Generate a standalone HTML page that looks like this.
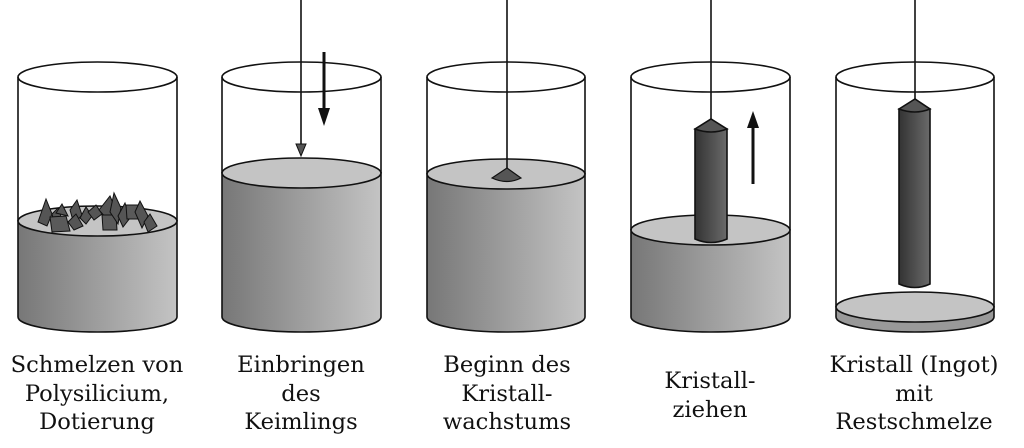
<!DOCTYPE html>
<html><head><meta charset="utf-8"><style>
html,body{margin:0;padding:0;background:#fff;}
svg{display:block}
text{font-family:"DejaVu Serif","Liberation Serif",serif;font-size:22.6px;fill:#111;text-anchor:middle}
</style></head><body>
<svg width="1024" height="448" viewBox="0 0 1024 448" xmlns="http://www.w3.org/2000/svg">
<defs>
<linearGradient id="g" x1="0" x2="1" y1="0" y2="0">
<stop offset="0" stop-color="#777"/><stop offset="1" stop-color="#c4c4c4"/></linearGradient>
<linearGradient id="c" x1="0" x2="1" y1="0" y2="0">
<stop offset="0" stop-color="#333"/><stop offset="1" stop-color="#6a6a6a"/></linearGradient>
</defs>
<g stroke="#111" stroke-width="1.6">
<!-- Cyl 1 -->
<path d="M18 221 L18 317 A79.5 15 0 0 0 177 317 L177 221 Z" fill="url(#g)"/>
<ellipse cx="97.5" cy="221" rx="79.5" ry="15" fill="#c4c4c4"/>
<ellipse cx="97.5" cy="77" rx="79.5" ry="15" fill="none"/>
<line x1="18" y1="77" x2="18" y2="221"/><line x1="177" y1="77" x2="177" y2="221"/>
<g fill="#555" stroke-width="1">
<polygon points="38,222 46,199 52,214 47,226"/>
<polygon points="52,214 58,208 63,222 55,226"/>
<polygon points="70,210 77,200 82,215 74,224"/>
<polygon points="80,218 86,207 92,216 86,224"/>
<polygon points="88,212 96,205 102,214 94,220"/>
<polygon points="99,210 110,196 116,210 108,220"/>
<polygon points="102,215 116,215 117,230 103,230" fill="#5a5a5a"/>
<polygon points="110,212 114,193 121,208 118,224"/>
<polygon points="118,216 125,203 130,218 123,227"/>
<polygon points="126,205 138,205 139,219 127,219" fill="#5a5a5a"/>
<polygon points="135,212 140,201 148,216 142,228"/>
<polygon points="144,222 150,214 157,226 148,232"/>
<polygon points="50,217 66,216 70,231 52,232" fill="#5a5a5a"/>
<polygon points="68,222 76,214 83,226 74,230"/>
<polygon points="56,213 62,204 68,216"/>
</g>
<!-- Cyl 2 -->
<path d="M222 173 L222 317 A79.5 15 0 0 0 381 317 L381 173 Z" fill="url(#g)"/>
<ellipse cx="301.5" cy="173" rx="79.5" ry="15" fill="#c4c4c4"/>
<ellipse cx="301.5" cy="77" rx="79.5" ry="15" fill="none"/>
<line x1="222" y1="77" x2="222" y2="173"/><line x1="381" y1="77" x2="381" y2="173"/>
<line x1="301" y1="0" x2="301" y2="145"/>
<polygon points="296,144 306,144 301,156" fill="#555" stroke-width="1"/>
<line x1="324" y1="52" x2="324" y2="110" stroke-width="3"/>
<polygon points="318,108 330,108 324,126" fill="#111" stroke="none"/>
<!-- Cyl 3 -->
<path d="M427 174 L427 317 A79 15 0 0 0 585 317 L585 174 Z" fill="url(#g)"/>
<ellipse cx="506" cy="174" rx="79" ry="15" fill="#c4c4c4"/>
<ellipse cx="506" cy="77" rx="79" ry="15" fill="none"/>
<line x1="427" y1="77" x2="427" y2="174"/><line x1="585" y1="77" x2="585" y2="174"/>
<line x1="507" y1="0" x2="507" y2="168"/>
<path d="M507 168 L492 178 Q507 185 521 178 Z" fill="#555" stroke-width="1.2"/>
<!-- Cyl 4 -->
<path d="M631 230 L631 317 A79.5 15 0 0 0 790 317 L790 230 Z" fill="url(#g)"/>
<ellipse cx="710.5" cy="230" rx="79.5" ry="15" fill="#c4c4c4"/>
<ellipse cx="710.5" cy="77" rx="79.5" ry="15" fill="none"/>
<line x1="631" y1="77" x2="631" y2="230"/><line x1="790" y1="77" x2="790" y2="230"/>
<line x1="711" y1="0" x2="711" y2="119"/>
<path d="M695 129 L695 239 Q711 246 727 239 L727 129 Z" fill="url(#c)"/>
<path d="M695 129 L711 119 L727 129 Q711 135 695 129 Z" fill="#555"/>
<line x1="753" y1="184" x2="753" y2="126" stroke-width="3"/>
<polygon points="747,128 759,128 753,111" fill="#111" stroke="none"/>
<!-- Cyl 5 -->
<path d="M836 307 L836 317 A79 15 0 0 0 994 317 L994 307 Z" fill="#999"/>
<ellipse cx="915" cy="307" rx="79" ry="15" fill="#c4c4c4"/>
<ellipse cx="915" cy="77" rx="79" ry="15" fill="none"/>
<line x1="836" y1="77" x2="836" y2="307"/><line x1="994" y1="77" x2="994" y2="307"/>
<line x1="915" y1="0" x2="915" y2="99"/>
<path d="M899 109 L899 284 Q915 291 930 284 L930 109 Z" fill="url(#c)"/>
<path d="M899 109 L915 99 L930 109 Q915 115 899 109 Z" fill="#555"/>
</g>
<text x="97" y="372">Schmelzen von</text>
<text x="97" y="401">Polysilicium,</text>
<text x="97" y="429">Dotierung</text>
<text x="301" y="372">Einbringen</text>
<text x="301" y="401">des</text>
<text x="301" y="429">Keimlings</text>
<text x="507" y="372">Beginn des</text>
<text x="507" y="401">Kristall-</text>
<text x="507" y="429">wachstums</text>
<text x="710" y="388">Kristall-</text>
<text x="710" y="417">ziehen</text>
<text x="914" y="372">Kristall (Ingot)</text>
<text x="914" y="401">mit</text>
<text x="914" y="429">Restschmelze</text>
</svg>
</body></html>
